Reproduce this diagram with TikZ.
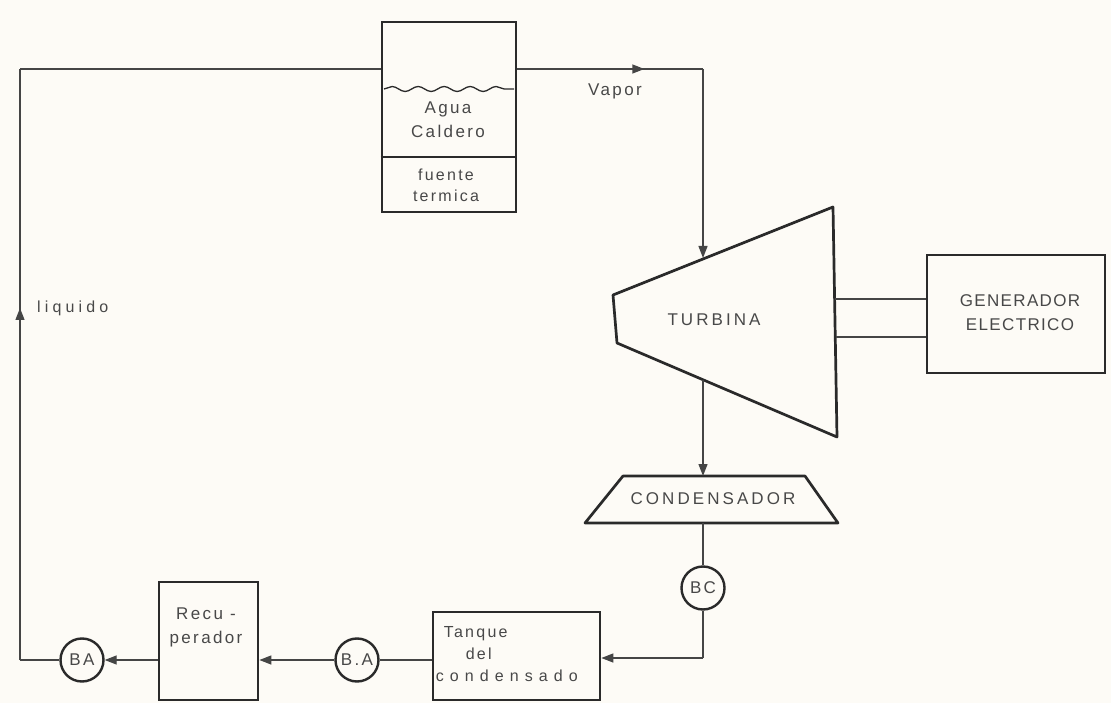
\documentclass[tikz,border=0pt]{standalone}
\usepackage{fontspec}
\usetikzlibrary{arrows.meta,decorations.pathmorphing,decorations.markings,calc}
\newfontfamily\lowfont{Liberation Sans}[LetterSpace=14]
\newfontfamily\widefont{Liberation Sans}[LetterSpace=26]
\newfontfamily\widerfont{Liberation Sans}[LetterSpace=38]
\newfontfamily\upfont{Liberation Sans}[LetterSpace=8]
\newfontfamily\upwidefont{Liberation Sans}[LetterSpace=18]
\newcommand\mylbl{\lowfont\fontsize{17}{24}\selectfont}
\newcommand\mycaps{\upfont\fontsize{17}{24}\selectfont}
\definecolor{boxc}{HTML}{2A2A2A}
\definecolor{linec}{HTML}{454545}
\definecolor{txtc}{HTML}{484848}
\definecolor{paper}{HTML}{FDFBF6}
\tikzset{
  box/.style={draw=boxc, line width=2.7pt, inner sep=0pt},
  pump/.style={circle, draw=boxc, line width=2.4pt, minimum size=43pt, inner sep=0pt, text=txtc, font=\lowfont\fontsize{17}{20}\selectfont},
  conn/.style={draw=linec, line width=1.3pt},
  tipped/.style={-{Triangle[length=12pt,width=9pt]}},
  lbl/.style={text=txtc, font=\mylbl, align=center, inner sep=0pt},
  caplbl/.style={text=txtc, font=\mycaps, align=center, inner sep=0pt},
  midtip/.style={postaction={decorate}, decoration={markings, mark=at position #1 with {\arrow[linec]{Triangle[length=12pt,width=9pt]}}}}
}
\begin{document}
\begin{tikzpicture}[x=1pt,y=-1pt]
\fill[paper] (0,0) rectangle (1111,703);
\useasboundingbox (0,0) rectangle (1111,703);

% Caldera
\node[box, minimum width=134pt, minimum height=190pt] (caldera) at (449,117) {};
\draw[boxc, line width=1.3pt, decorate, decoration={snake, amplitude=2.5pt, segment length=26pt}]
  (384,89) -- (514,89);
\draw[boxc, line width=1.8pt] (caldera.west |- 0,157) -- (caldera.east |- 0,157);
\node[lbl, font=\lowfont\fontsize{17}{24}\selectfont] (agua) at (448,120) {Agua\\Caldero};
\node[lbl, font=\lowfont\fontsize{16}{21}\selectfont] (fuente) at (446,185) {fuente\\termica};

% Turbina
\coordinate (tlt) at (613,295);
\coordinate (tlb) at (617,343);
\coordinate (trt) at (833,207);
\coordinate (trb) at (837,437);
\draw[boxc, line width=2.7pt, line join=round] (tlt) -- (trt) -- (trb) -- (tlb) -- cycle;
\node[caplbl, font=\upwidefont\fontsize{17}{24}\selectfont] (turbina) at (714,320) {TURBINA};
\coordinate (tin) at (703,258);
\coordinate (tout) at (703,380);
\coordinate (tr1) at (835,299);
\coordinate (tr2) at (836,337);

% Generador
\node[box, minimum width=178pt, minimum height=118pt] (gen) at (1016,314) {};
\node[caplbl] (gentext) at (1020,313) {GENERADOR\\ELECTRICO};
\draw[conn] (tr1) -- (gen.west |- tr1);
\draw[conn] (tr2) -- (gen.west |- tr2);

% Condensador
\coordinate (ctl) at (623,476);
\coordinate (ctr) at (805,476);
\coordinate (cbr) at (838,523);
\coordinate (cbl) at (585,523);
\draw[boxc, line width=2.7pt, line join=round] (ctl) -- (ctr) -- (cbr) -- (cbl) -- cycle;
\node[caplbl, font=\upwidefont\fontsize{17}{24}\selectfont] (cond) at (713,499) {CONDENSADOR};
\coordinate (cin) at (703,476);
\coordinate (cout) at (703,523);

% Bombas
\node[pump] (bc) at (703,588) {BC};
\node[pump] (ba1) at (357,660) {B.A};
\node[pump] (ba2) at (82,660) {BA};

% Tanque
\node[box, minimum width=167pt, minimum height=88pt] (tanque) at (516.5,656) {};
\node[lbl, align=left, anchor=west, font=\lowfont\fontsize{16}{22}\selectfont] (tanquetext) at ($(tanque.west)+(4,-2)$)
  {\hspace*{8pt}Tanque\\\hspace*{30pt}del\\{\widerfont condensado}};

% Recuperador
\node[lbl, font=\lowfont\fontsize{17}{24}\selectfont] (recuptext) at (206,627) {Recu -\\perador};
\node[box, minimum width=99pt, minimum height=118pt] (recup) at (208.5,641) {};

% Labels
\node[lbl] (vapor) at (615,91) {Vapor};
\node[lbl, anchor=west, font=\widefont\fontsize{16}{22}\selectfont] (liquido) at (37,308) {liquido};

% Connectors
\coordinate (lc1) at (20,660);
\coordinate (lc2) at (20,69);
\coordinate (vc) at (703,69);
\draw[conn] (ba2.west) -- (lc1);
\draw[conn, midtip=352pt] (lc1) -- (lc2);
\draw[conn] (lc2) -- (caldera.west |- lc2);
\draw[conn, midtip=127pt] (caldera.east |- vc) -- (vc);
\draw[conn, tipped] (vc) -- (tin);
\draw[conn, tipped] (tout) -- (cin);
\draw[conn] (cout) -- (bc.north);
\coordinate (bcc) at (bc.south |- 0,658);
\draw[conn] (bc.south) -- (bcc);
\draw[conn, tipped] (bcc) -- (tanque.east |- bcc);
\draw[conn] (tanque.west |- ba1) -- (ba1.east);
\draw[conn, tipped] (ba1.west) -- (recup.east |- ba1);
\draw[conn, tipped] (recup.west |- ba2) -- (ba2.east);
\end{tikzpicture}
\end{document}
